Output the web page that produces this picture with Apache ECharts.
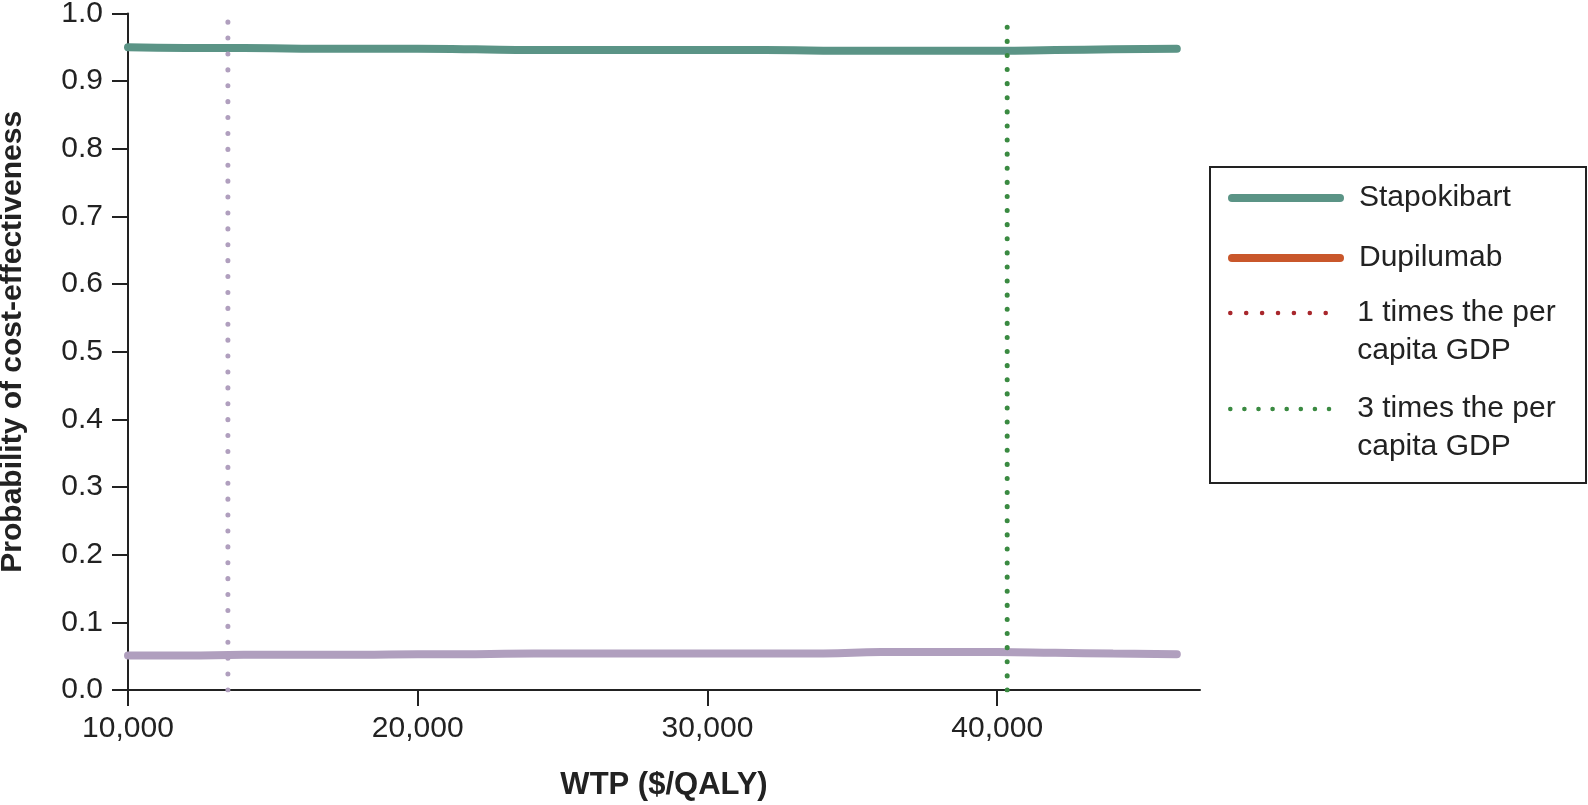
<!DOCTYPE html>
<html>
<head>
<meta charset="utf-8">
<script src="https://cdn.jsdelivr.net/npm/echarts@6/dist/echarts.min.js"></script>
<style>
  html, body { margin: 0; padding: 0; background: #fff; }
  #main { width: 1588px; height: 805px; }
</style>
</head>
<body>
<div id="main"></div>
<script>
// WTP grid ($/QALY)
const wtp = [10000, 12000, 14000, 16000, 18000, 20000, 22000, 24000, 26000, 28000,
  30000, 32000, 34000, 36000, 38000, 40000, 42000, 44000, 46200];
// probability of cost-effectiveness
const stapokibart = [0.950, 0.949, 0.949, 0.948, 0.948, 0.948, 0.947, 0.946, 0.946, 0.946,
  0.946, 0.946, 0.945, 0.945, 0.945, 0.945, 0.946, 0.947, 0.948];
const dupilumab = [0.051, 0.051, 0.052, 0.052, 0.052, 0.053, 0.053, 0.054, 0.054, 0.054,
  0.054, 0.054, 0.054, 0.056, 0.056, 0.056, 0.055, 0.054, 0.053];
// 1x and 3x per capita GDP thresholds
const gdpNames = ['1 times the per\ncapita GDP', '3 times the per\ncapita GDP'];
const gdpWtp = [13448, 40345];
const gdpLineTop = [0.99, 1.0];
const xTicks = [10000, 20000, 30000, 40000];

const font = "'Liberation Sans', Arial, Helvetica, sans-serif";
const ink = '#222';

const chart = echarts.init(document.getElementById('main'));

function pairs(xs, ys) {
  return xs.map((x, i) => [x, ys[i]]);
}

// one legend per entry so the two-line labels can start level with their icon
const legendBase = {
  orient: 'vertical',
  left: 1228,
  padding: 0,
  itemWidth: 108,
  itemHeight: 14,
  selectedMode: false,
  itemStyle: { opacity: 0 },
  textStyle: { fontFamily: font, fontSize: 30, color: ink, lineHeight: 38, padding: [0, 0, 0, 14] }
};
// blank first line keeps the icon beside the first text line
const firstLine = name => '\n' + name;

const option = {
  animation: false,
  backgroundColor: '#fff',
  grid: { left: 128, right: 388, top: 13.5, bottom: 115, outerBoundsMode: 'none' },
  legend: [
    Object.assign({}, legendBase, {
      top: 179,
      data: [{ name: 'Stapokibart', lineStyle: { width: 8, cap: 'round' } }]
    }),
    Object.assign({}, legendBase, {
      top: 239,
      data: [{ name: 'Dupilumab', lineStyle: { color: '#c9572b', width: 8, cap: 'round' } }]
    }),
    Object.assign({}, legendBase, {
      top: 256,
      formatter: firstLine,
      data: [{ name: gdpNames[0], lineStyle: { color: '#a8272c', width: 4.5 } }]
    }),
    Object.assign({}, legendBase, {
      top: 352,
      formatter: firstLine,
      data: [{ name: gdpNames[1], lineStyle: { width: 4.5 } }]
    })
  ],
  graphic: [{
    type: 'rect',
    shape: { x: 1210, y: 167, width: 376, height: 316 },
    style: { fill: 'none', stroke: ink, lineWidth: 2 },
    silent: true
  }],
  xAxis: {
    type: 'value',
    min: 10000,
    max: 47000,
    interval: 10000,
    name: 'WTP ($/QALY)',
    nameLocation: 'middle',
    nameGap: 80,
    nameTextStyle: { fontFamily: font, fontSize: 31, fontWeight: 'bold', color: ink },
    axisLine: { onZero: false, lineStyle: { color: ink, width: 2 } },
    axisTick: { customValues: xTicks, length: 16, lineStyle: { color: ink, width: 2 } },
    axisLabel: {
      customValues: xTicks,
      margin: 24,
      fontFamily: font, fontSize: 30, color: ink,
      formatter: v => v.toLocaleString('en-US')
    },
    splitLine: { show: false }
  },
  yAxis: {
    type: 'value',
    min: 0,
    max: 1,
    interval: 0.1,
    name: 'Probability of cost-effectiveness',
    nameLocation: 'middle',
    nameGap: 100,
    nameTextStyle: { fontFamily: font, fontSize: 30, fontWeight: 'bold', color: ink, padding: [0, 0, 0, 20] },
    axisLine: { show: true, lineStyle: { color: ink, width: 2 } },
    axisTick: { show: true, length: 16, lineStyle: { color: ink, width: 2 } },
    axisLabel: {
      margin: 25,
      fontFamily: font, fontSize: 30, color: ink,
      formatter: v => v.toFixed(1)
    },
    splitLine: { show: false }
  },
  series: [
    {
      name: 'Stapokibart',
      type: 'line',
      data: pairs(wtp, stapokibart),
      smooth: true,
      symbol: 'none',
      lineStyle: { color: '#5b9486', width: 8, cap: 'round' },
      itemStyle: { color: '#5b9486' },
      z: 2
    },
    {
      name: 'Dupilumab',
      type: 'line',
      data: pairs(wtp, dupilumab),
      smooth: true,
      symbol: 'none',
      lineStyle: { color: '#b09fbe', width: 8, cap: 'round' },
      itemStyle: { color: '#b09fbe' },
      z: 2
    },
    {
      name: gdpNames[0],
      type: 'line',
      data: [[gdpWtp[0], 0], [gdpWtp[0], gdpLineTop[0]]],
      symbol: 'none',
      lineStyle: { color: '#b09fbe', width: 5, type: [0.1, 15.8], cap: 'round' },
      itemStyle: { color: '#b09fbe' },
      z: 3
    },
    {
      name: gdpNames[1],
      type: 'line',
      data: [[gdpWtp[1], 0], [gdpWtp[1], gdpLineTop[1]]],
      symbol: 'none',
      lineStyle: { color: '#3a8a41', width: 5, type: [0.1, 14], cap: 'round' },
      itemStyle: { color: '#3a8a41' },
      z: 3
    }
  ]
};

chart.setOption(option);
</script>
</body>
</html>
